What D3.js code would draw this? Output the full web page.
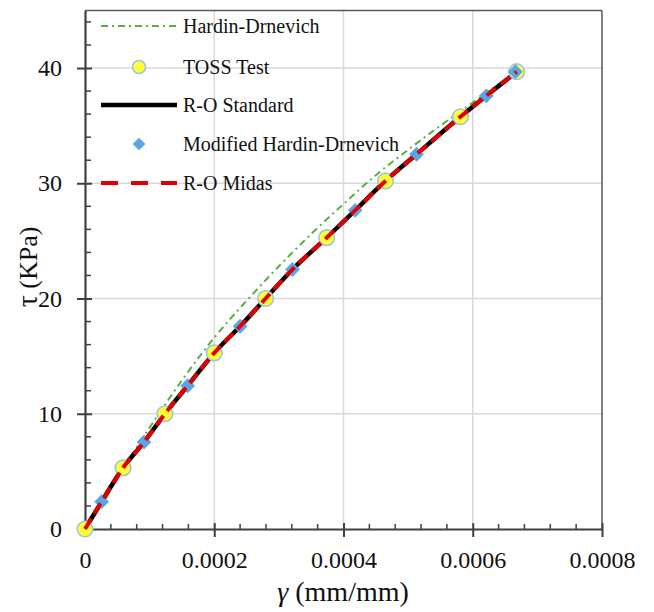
<!DOCTYPE html>
<html><head><meta charset="utf-8">
<script src="https://cdn.jsdelivr.net/npm/d3@7"></script>
<style>body{margin:0;background:#fff} text{font-family:'Liberation Serif','Times New Roman',serif !important;}</style>
</head><body>
<svg id="c" width="654" height="612"></svg>
<script>
// ---- data ----
const xTicks = [0, 0.0002, 0.0004, 0.0006, 0.0008];
const xTickLabels = ["0", "0.0002", "0.0004", "0.0006", "0.0008"];
const yTicks = [0, 10, 20, 30, 40];
const yTickLabels = ["0", "10", "20", "30", "40"];

const tossGamma = [0, 0.0000588, 0.0001237, 0.0002, 0.0002795, 0.000374, 0.000465, 0.000581, 0.000668];
const tossTau   = [0, 5.3, 10.0, 15.28, 20.0, 25.28, 30.2, 35.77, 39.68];

const mhdGamma = [0.0000258, 0.0000913, 0.0001588, 0.00024, 0.000321, 0.000418, 0.000513, 0.000621, 0.000666];
const mhdTau   = [2.37, 7.54, 12.43, 17.59, 22.52, 27.65, 32.52, 37.59, 39.68];

const hdGamma = [0, 0.00005, 0.0001, 0.00015, 0.0002, 0.00025, 0.0003, 0.00035, 0.0004, 0.00045, 0.0005, 0.00055, 0.0006, 0.00065, 0.000668];
const hdTau   = [0, 4.5, 8.8, 12.9, 16.6, 19.8, 22.8, 25.6, 28.2, 30.7, 32.9, 35.0, 37.0, 39.0, 39.7];

const roStdGamma = [0, 0.0000258, 0.0000588, 0.0000913, 0.0001237, 0.0001588, 0.0002, 0.00024, 0.0002795, 0.000321, 0.000374, 0.000418, 0.000465, 0.000513, 0.000581, 0.000621, 0.000668];
const roStdTau   = [0, 2.37, 5.3, 7.54, 10.0, 12.43, 15.28, 17.59, 20.0, 22.52, 25.28, 27.65, 30.2, 32.52, 35.77, 37.59, 39.68];

const roMidasGamma = [0, 0.0000258, 0.0000588, 0.0000913, 0.0001237, 0.0001588, 0.0002, 0.00024, 0.0002795, 0.000321, 0.000374, 0.000418, 0.000465, 0.000513, 0.000581, 0.000621, 0.000668];
const roMidasTau   = [0, 2.37, 5.3, 7.54, 10.0, 12.43, 15.28, 17.59, 20.0, 22.52, 25.28, 27.65, 30.2, 32.52, 35.77, 37.59, 39.68];

const legendLabels = ["Hardin-Drnevich", "TOSS Test", "R-O Standard", "Modified Hardin-Drnevich", "R-O Midas"];

// ---- chart ----
const svg = d3.select("#c");
const L = 85, R = 602, T = 10.4, B = 529;
const x = d3.scaleLinear().domain([0, 0.0008]).range([L, R]);
const y = d3.scaleLinear().domain([0, 45]).range([B, T]);
const serif = "'Liberation Serif','Times New Roman',serif";

// grid
const g = svg.append("g");
g.selectAll(".gx").data(xTicks.slice(1, -1)).enter().append("line")
  .attr("x1", d => x(d)).attr("x2", d => x(d)).attr("y1", T).attr("y2", B)
  .attr("stroke", "#d9d9d9").attr("stroke-width", 1.5);
g.selectAll(".gy").data(yTicks.slice(1)).enter().append("line")
  .attr("y1", d => y(d)).attr("y2", d => y(d)).attr("x1", L).attr("x2", R)
  .attr("stroke", "#d9d9d9").attr("stroke-width", 1.5);

// frame top/right
svg.append("line").attr("x1", L).attr("x2", R).attr("y1", T).attr("y2", T).attr("stroke", "#595959").attr("stroke-width", 1.5);
svg.append("line").attr("x1", R).attr("x2", R).attr("y1", T).attr("y2", B).attr("stroke", "#595959").attr("stroke-width", 1.5);

// minor ticks
const xMinor = d3.range(0, 41).map(i => i * 0.00002).filter((d, i) => i % 10 !== 0 && i % 2 === 0);
const yMinor = d3.range(0, 23).map(i => i * 2).filter(d => d % 10 !== 0 && d <= 44);
svg.selectAll(".mx").data(xMinor).enter().append("line")
  .attr("x1", d => x(d)).attr("x2", d => x(d)).attr("y1", B).attr("y2", B - 5)
  .attr("stroke", "#404040").attr("stroke-width", 1.5);
svg.selectAll(".my").data(yMinor).enter().append("line")
  .attr("y1", d => y(d)).attr("y2", d => y(d)).attr("x1", L).attr("x2", L + 6)
  .attr("stroke", "#404040").attr("stroke-width", 1.5);

// axes via d3 axis
const xAxis = d3.axisBottom(x).tickValues(xTicks).tickFormat((d, i) => xTickLabels[i]).tickSize(8).tickSizeOuter(0).tickPadding(14);
const gx = svg.append("g").attr("transform", `translate(0,${B})`).call(xAxis);
gx.attr("font-family", serif);
gx.select(".domain").attr("stroke", "#404040").attr("stroke-width", 2.2);
gx.selectAll(".tick line").attr("stroke", "#404040").attr("stroke-width", 2).attr("y1", -6);
gx.selectAll(".tick text").attr("font-family", serif).attr("font-size", 24).attr("fill", "#111");

const yAxis = d3.axisLeft(y).tickValues(yTicks).tickFormat((d, i) => yTickLabels[i]).tickSize(8).tickSizeOuter(0).tickPadding(15);
const gy = svg.append("g").attr("transform", `translate(${L},0)`).call(yAxis);
gy.attr("font-family", serif);
gy.select(".domain").attr("stroke", "#404040").attr("stroke-width", 2.2);
gy.selectAll(".tick line").attr("stroke", "#404040").attr("stroke-width", 2).attr("x1", 7);
gy.selectAll(".tick text").attr("font-family", serif).attr("font-size", 24).attr("fill", "#111");

// axis titles
const xt = svg.append("text").attr("x", 343).attr("y", 601).attr("text-anchor", "middle")
  .attr("font-family", serif).attr("font-size", 28).attr("fill", "#111");
xt.append("tspan").attr("font-style", "italic").text("γ");
xt.append("tspan").text(" (mm/mm)");

const yt = svg.append("text").attr("transform", "translate(37,267) rotate(-90)").attr("text-anchor", "middle")
  .attr("font-family", serif).attr("font-size", 26).attr("fill", "#111");
yt.append("tspan").attr("font-size", 30).text("τ");
yt.append("tspan").text(" (KPa)");

// lines
const line = d3.line().x(d => x(d[0])).y(d => y(d[1])).curve(d3.curveMonotoneX);
const zip = (a, b) => a.map((v, i) => [v, b[i]]);

svg.append("path").datum(zip(hdGamma, hdTau)).attr("d", line).attr("fill", "none")
  .attr("stroke", "#5aae46").attr("stroke-width", 2).attr("stroke-dasharray", "7,4,2,4");
svg.append("path").datum(zip(roStdGamma, roStdTau)).attr("d", line).attr("fill", "none")
  .attr("stroke", "#000").attr("stroke-width", 4.5);

// markers
const diamond = d3.symbol().type(d3.symbolSquare).size(110);
svg.selectAll(".toss").data(zip(tossGamma, tossTau)).enter().append("circle")
  .attr("cx", d => x(d[0])).attr("cy", d => y(d[1])).attr("r", 7.8)
  .attr("fill", "#ffff33").attr("stroke", "#9dc3e6").attr("stroke-width", 1.6);
svg.selectAll(".mhd").data(zip(mhdGamma, mhdTau)).enter().append("path")
  .attr("d", diamond).attr("transform", d => `translate(${x(d[0])},${y(d[1])}) rotate(45)`)
  .attr("fill", "#5aa5e8");

svg.append("path").datum(zip(roMidasGamma, roMidasTau)).attr("d", line).attr("fill", "none")
  .attr("stroke", "#e00000").attr("stroke-width", 4).attr("stroke-dasharray", "12,6");

// legend
const ly = [26, 67, 105, 144, 183];
const lg = svg.append("g");
lg.append("line").attr("x1", 101).attr("x2", 177).attr("y1", ly[0]).attr("y2", ly[0])
  .attr("stroke", "#5aae46").attr("stroke-width", 2).attr("stroke-dasharray", "7,4,2,4");
lg.append("circle").attr("cx", 139).attr("cy", ly[1]).attr("r", 6.5)
  .attr("fill", "#ffff33").attr("stroke", "#9dc3e6").attr("stroke-width", 1.6);
lg.append("line").attr("x1", 101).attr("x2", 177).attr("y1", ly[2]).attr("y2", ly[2])
  .attr("stroke", "#000").attr("stroke-width", 4.5);
lg.append("path").attr("d", d3.symbol().type(d3.symbolSquare).size(80))
  .attr("transform", `translate(139,${ly[3]}) rotate(45)`).attr("fill", "#5aa5e8");
lg.append("line").attr("x1", 101).attr("x2", 177).attr("y1", ly[4]).attr("y2", ly[4])
  .attr("stroke", "#e00000").attr("stroke-width", 4).attr("stroke-dasharray", "17,13");
lg.selectAll(".lt").data(legendLabels).enter().append("text")
  .attr("x", 183).attr("y", (d, i) => ly[i] + 7).attr("font-family", serif).attr("font-size", 20)
  .attr("fill", "#111").text(d => d);
</script>
</body></html>
